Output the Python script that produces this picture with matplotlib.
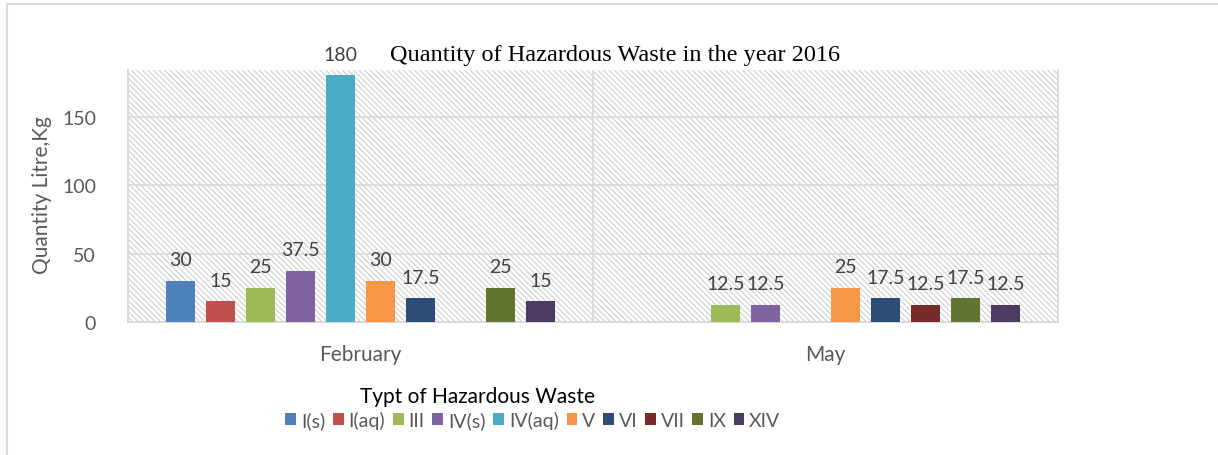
import matplotlib
matplotlib.use("Agg")
import matplotlib.pyplot as plt
from matplotlib.patches import Rectangle, Patch
from matplotlib.lines import Line2D
import numpy as np

# chart data
months = ["February", "May"]
waste_types = ["I(s)", "I(aq)", "III", "IV(s)", "IV(aq)", "V", "VI", "VII", "IX", "XIV"]
feb_values = [30, 15, 25, 37.5, 180, 30, 17.5, None, 25, 15]
may_values = [None, None, 12.5, 12.5, None, 25, 17.5, 12.5, 17.5, 12.5]
colors = ["#4F81BD", "#C0504D", "#9BBB59", "#8064A2", "#4BACC6",
          "#F79646", "#2C4D75", "#772C2A", "#5F7530", "#4D3B62"]
y_ticks = [0, 50, 100, 150]

plt.rcParams['font.family'] = ['Lato', 'DejaVu Sans']
plt.rcParams['hatch.linewidth'] = 0.9

fig = plt.figure(figsize=(12.18, 4.56), dpi=100)
ax = fig.add_axes([128/1218, 1-323/456, 930/1218, 252/456])

grid_c = "#d9d9d9"
text_c = "#595959"

# hatched plot background
bg = Rectangle((0, 0), 1, 1, transform=ax.transAxes, facecolor="white",
               edgecolor="#d4d4d4", hatch="\\" * 6, linewidth=0, zorder=0)
ax.add_patch(bg)

slot = 0.086
width = 0.0624
x = np.arange(len(months))
for i, name in enumerate(waste_types):
    vals = [feb_values[i], may_values[i]]
    offs = (i - 4.5) * slot
    for j, v in enumerate(vals):
        if v is None:
            continue
        r = ax.bar(x[j] + offs, v, width, color=colors[i], zorder=3)
        ax.bar_label(r, labels=[f"{v:g}"], padding=9, fontsize=14, color="#404040")

ax.set_xlim(-0.5, 1.5)
ax.set_ylim(0, 184)
ax.set_yticks(y_ticks)
ax.set_xticks(x)
ax.set_xticklabels(months)
ax.tick_params(axis='both', length=0, labelsize=14, labelcolor=text_c)
ax.tick_params(axis='x', labelsize=15, pad=16)
ax.tick_params(axis='y', pad=23)

for yv in y_ticks[1:]:
    ax.axhline(yv, color=grid_c, lw=1.2, zorder=1)
ax.axvline(0.5, color=grid_c, lw=1.2, zorder=1)

ax.spines["top"].set_visible(False)
for s in ["left", "right", "bottom"]:
    ax.spines[s].set_color(grid_c)
    ax.spines[s].set_linewidth(1.4)

fig.text(615/1218, 1-55/456, "Quantity of Hazardous Waste in the year 2016",
         family="Liberation Serif", fontsize=17.5, ha="center", va="center", color="black")
fig.text(42/1218, 1-195/456, "Quantity Litre,Kg", rotation=90, fontsize=15,
         color=text_c, ha="center", va="center")
fig.text(477/1218, 1-397/456, "Typt of Hazardous Waste", fontsize=15,
         color="black", ha="center", va="center")

handles = [Patch(facecolor=c, edgecolor="none") for c in colors]
fig.legend(handles, waste_types, loc="center", bbox_to_anchor=(533/1218, 1-421/456),
           ncol=10, frameon=False, fontsize=14, handlelength=0.55, handleheight=0.55,
           handletextpad=0.25, columnspacing=0.4, labelcolor=text_c)

# outer chart frame
fig.add_artist(Line2D([7/1218, 7/1218], [0, 1-5/456], color=grid_c, lw=1.5))
fig.add_artist(Line2D([7/1218, 1], [1-5/456, 1-5/456], color=grid_c, lw=1.5))

fig.savefig("out.png", dpi=100)
